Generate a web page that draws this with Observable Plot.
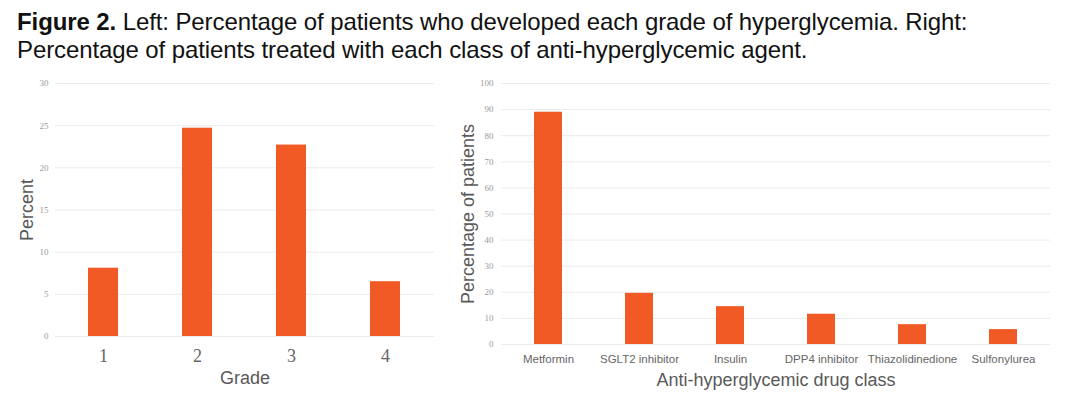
<!DOCTYPE html>
<html>
<head>
<meta charset="utf-8">
<script src="https://cdn.jsdelivr.net/npm/d3@7"></script>
<script src="https://cdn.jsdelivr.net/npm/@observablehq/plot@0.6"></script>
<style>
  html, body { margin: 0; padding: 0; background: #fff; }
  #page { position: relative; width: 1080px; height: 399px; overflow: hidden; background: #fff; }
  #title { position: absolute; left: 17px; top: 8px; font-family: "Liberation Sans", Arial, sans-serif; font-size: 24px; line-height: 28px; color: #111; white-space: nowrap; letter-spacing: -0.1px; }
  #left { position: absolute; left: 0; top: 70px; }
  #right { position: absolute; left: 450px; top: 70px; }
</style>
</head>
<body>
<div id="page">
  <div id="title"><b>Figure 2.</b> Left: Percentage of patients who developed each grade of hyperglycemia. Right:<br>Percentage of patients treated with each class of anti-hyperglycemic agent.</div>
  <div id="left"></div>
  <div id="right"></div>
</div>
<script>
// Left chart data
const grades = ["1", "2", "3", "4"];
const gradePercent = [8.1, 24.7, 22.7, 6.5];
const leftTicks = [0, 5, 10, 15, 20, 25, 30];

// Right chart data
const drugClasses = ["Metformin", "SGLT2 inhibitor", "Insulin", "DPP4 inhibitor", "Thiazolidinedione", "Sulfonylurea"];
const drugPercent = [89.0, 19.6, 14.5, 11.6, 7.6, 5.7];
const rightTicks = [0, 10, 20, 30, 40, 50, 60, 70, 80, 90, 100];

const barColor = "#f15a24";
const gridColor = "#ebebeb";
const sans = "Liberation Sans, Arial, sans-serif";
const serif = "Liberation Serif, Times New Roman, serif";

const leftData = grades.map((g, i) => ({grade: g, pct: gradePercent[i]}));
const rightData = drugClasses.map((d, i) => ({drug: d, pct: drugPercent[i]}));

const left = Plot.plot({
  width: 450, height: 329,
  marginLeft: 55, marginRight: 16, marginTop: 13, marginBottom: 63,
  style: {background: "white", fontFamily: sans},
  x: {domain: grades, paddingInner: 0.68, paddingOuter: 0.34, label: null},
  y: {domain: [0, 30], label: null},
  marks: [
    Plot.gridY(leftTicks, {stroke: gridColor, strokeOpacity: 1, strokeWidth: 1}),
    Plot.barY(leftData, {x: "grade", y: "pct", fill: barColor}),
    Plot.axisY(leftTicks, {tickSize: 0, tickPadding: 7, fontFamily: serif, fontSize: 9, fill: "#9a9a9a", label: null}),
    Plot.axisX({tickSize: 0, tickPadding: 13, fontFamily: serif, fontSize: 18, fill: "#666", label: null}),
    Plot.text(["Grade"], {frameAnchor: "bottom", dy: 42, lineAnchor: "middle", textAnchor: "middle", fontFamily: sans, fontSize: 18, fill: "#595959"}),
    Plot.text(["Percent"], {frameAnchor: "left", dx: -28, rotate: -90, lineAnchor: "middle", textAnchor: "middle", fontFamily: sans, fontSize: 18, fill: "#595959"})
  ]
});
document.getElementById("left").append(left);

const right = Plot.plot({
  width: 630, height: 329,
  marginLeft: 51, marginRight: 30, marginTop: 13, marginBottom: 55,
  style: {background: "white", fontFamily: sans},
  x: {domain: drugClasses, paddingInner: 0.687, paddingOuter: 0.343, label: null},
  y: {domain: [0, 100], label: null},
  marks: [
    Plot.gridY(rightTicks, {stroke: gridColor, strokeOpacity: 1, strokeWidth: 1}),
    Plot.barY(rightData, {x: "drug", y: "pct", fill: barColor}),
    Plot.axisY(rightTicks, {tickSize: 0, tickPadding: 8, fontFamily: serif, fontSize: 9, fill: "#9a9a9a", label: null}),
    Plot.axisX({tickSize: 0, tickPadding: 10, fontFamily: sans, fontSize: 11.5, fill: "#666", label: null}),
    Plot.text(["Anti-hyperglycemic drug class"], {frameAnchor: "bottom", dy: 36, lineAnchor: "middle", textAnchor: "middle", fontFamily: sans, fontSize: 18, fill: "#595959"}),
    Plot.text(["Percentage of patients"], {frameAnchor: "left", dx: -33, rotate: -90, lineAnchor: "middle", textAnchor: "middle", fontFamily: sans, fontSize: 18, fill: "#595959"})
  ]
});
document.getElementById("right").append(right);
</script>
</body>
</html>
